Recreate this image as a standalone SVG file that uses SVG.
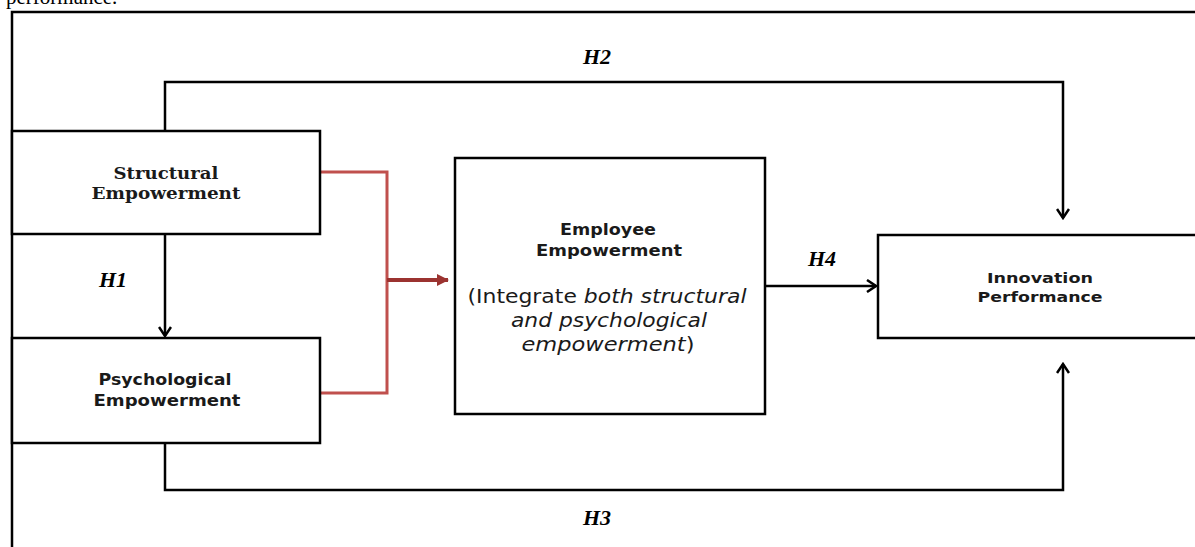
<svg xmlns="http://www.w3.org/2000/svg" width="1195" height="547" viewBox="0 0 1195 547">
<style>
.box{fill:#fff;stroke:#000;stroke-width:2.5}
.ln{fill:none;stroke:#000;stroke-width:2.5}
.red{fill:none;stroke:#C0504D;stroke-width:3}
.serif{font-family:"DejaVu Serif",serif;font-weight:bold;font-size:17px;text-anchor:middle;fill:#1a1a1a}
.sans{font-family:"DejaVu Sans",sans-serif;font-weight:bold;font-size:16px;text-anchor:middle;fill:#1a1a1a}
.small{font-family:"DejaVu Sans",sans-serif;font-weight:bold;font-size:14.5px;text-anchor:middle;fill:#1a1a1a}
.body{font-family:"DejaVu Sans",sans-serif;font-size:19px;text-anchor:middle;fill:#1a1a1a}
.hl{font-family:"Liberation Serif",serif;font-weight:bold;font-style:italic;font-size:22px;text-anchor:middle;fill:#000}
</style>
<defs>
<marker id="open" viewBox="0 0 14 14" refX="12" refY="7" markerWidth="14" markerHeight="14" markerUnits="userSpaceOnUse" orient="auto">
<path d="M3,1 L12,7 L3,13" fill="none" stroke="#000" stroke-width="2.5"/>
</marker>
<marker id="redhead" viewBox="0 0 12 12" refX="11" refY="6" markerWidth="12" markerHeight="12" markerUnits="userSpaceOnUse" orient="auto">
<path d="M0,0 L12,6 L0,12 Z" fill="#9B3330"/>
</marker>
</defs>
<rect width="1195" height="547" fill="#fff"/>
<text x="6" y="4" font-family="Liberation Serif,serif" font-size="21" fill="#000">performance.</text>
<rect x="12" y="12" width="1200" height="560" class="ln"/>

<g id="connectors">
<path class="ln" d="M165,131 V82 H1063 V218" marker-end="url(#open)"/>
<path class="ln" d="M165,234 V336" marker-end="url(#open)"/>
<path class="ln" d="M165,443 V490 H1063 V364" marker-end="url(#open)"/>
<path class="ln" d="M765,286 H876" marker-end="url(#open)"/>
<path class="red" d="M320,172 H387 V393 H320"/>
<path d="M387,280 H448" fill="none" stroke="#9B3330" stroke-width="4" marker-end="url(#redhead)"/>
<text class="hl" x="597" y="64">H2</text>
<text class="hl" x="113" y="287">H1</text>
<text class="hl" x="597" y="525">H3</text>
<text class="hl" x="822" y="266">H4</text>
</g>

<g id="structural">
<rect class="box" x="12" y="131" width="308" height="103"/>
<text class="serif" x="166" y="179" textLength="105" lengthAdjust="spacingAndGlyphs">Structural</text>
<text class="serif" x="166" y="199" textLength="149" lengthAdjust="spacingAndGlyphs">Empowerment</text>
</g>
<g id="psychological">
<rect class="box" x="12" y="338" width="308" height="105"/>
<text class="sans" x="165" y="385" textLength="133" lengthAdjust="spacingAndGlyphs">Psychological</text>
<text class="sans" x="167" y="406" textLength="147" lengthAdjust="spacingAndGlyphs">Empowerment</text>
</g>
<g id="employee">
<rect class="box" x="455" y="158" width="310" height="256"/>
<text class="sans" x="608" y="235" textLength="96" lengthAdjust="spacingAndGlyphs">Employee</text>
<text class="sans" x="609" y="256" textLength="146" lengthAdjust="spacingAndGlyphs">Empowerment</text>
<text class="body" x="607" y="303" textLength="279" lengthAdjust="spacingAndGlyphs">(Integrate <tspan font-style="italic">both structural</tspan></text>
<text class="body" x="609" y="327" font-style="italic" textLength="196" lengthAdjust="spacingAndGlyphs">and psychological</text>
<text class="body" x="608" y="351" textLength="173" lengthAdjust="spacingAndGlyphs"><tspan font-style="italic">empowerment</tspan>)</text>
</g>
<g id="innovation">
<rect class="box" x="878" y="235" width="330" height="103"/>
<text class="small" x="1040" y="283" textLength="106" lengthAdjust="spacingAndGlyphs">Innovation</text>
<text class="small" x="1040" y="302" textLength="125" lengthAdjust="spacingAndGlyphs">Performance</text>
</g>
</svg>
